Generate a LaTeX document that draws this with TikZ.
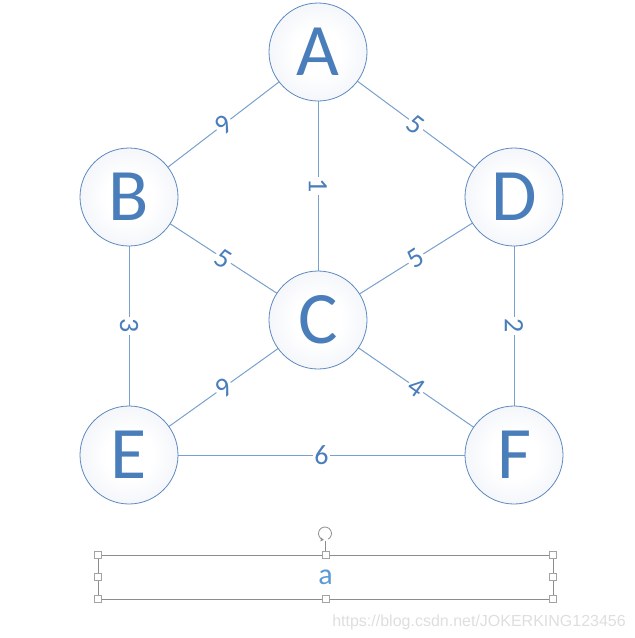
\documentclass[tikz,border=0pt]{standalone}
\usepackage{fontspec}
\setmainfont{Carlito}
\newfontfamily\wmfont{Liberation Sans}
\usetikzlibrary{arrows.meta,calc}
\definecolor{nodeblue}{RGB}{74,126,187}
\definecolor{ringblue}{RGB}{92,138,192}
\definecolor{edgeblue}{RGB}{120,160,206}
\definecolor{shadeblue}{RGB}{224,229,241}
\definecolor{aboxblue}{RGB}{91,155,213}
\definecolor{framegray}{RGB}{140,140,140}
\definecolor{wmgray}{RGB}{222,222,222}
\pgfdeclareradialshading{nodeshade}{\pgfpoint{0bp}{0bp}}{color(0bp)=(white); color(12bp)=(white); color(50bp)=(shadeblue)}
\begin{document}
\begin{tikzpicture}[x=1pt,y=-1pt,
  vertex/.style={circle, draw=ringblue, line width=0.8pt, shading=nodeshade,
    minimum size=98pt, inner sep=0pt, text=nodeblue, font=\fontsize{74}{74}\selectfont},
  edge/.style={draw=edgeblue, line width=1pt},
  wt/.style={midway, fill=white, inner sep=1.5pt, text=nodeblue,
    font=\fontsize{28}{28}\selectfont},
  handle/.style={draw=framegray!80, fill=white, line width=0.6pt,
    minimum size=7pt, inner sep=0pt}]
\useasboundingbox (0,0) rectangle (635,638);
% edges
\coordinate (pA) at (318,52);
\coordinate (pB) at (129,197);
\coordinate (pD) at (514,197);
\coordinate (pC) at (318,320);
\coordinate (pE) at (129,455);
\coordinate (pF) at (514,455);
\draw[edge] (pB) -- node[wt, rotate=37.5] {9} (pA);
\draw[edge] (pA) -- node[wt, rotate=-37.5] {5} (pD);
\draw[edge] (pA) -- node[wt, rotate=-90] {1} (pC);
\draw[edge] (pB) -- node[wt, rotate=-33] {5} (pC);
\draw[edge] (pC) -- node[wt, rotate=33] {5} (pD);
\draw[edge] (pB) -- node[wt, rotate=-90] {3} (pE);
\draw[edge] (pD) -- node[wt, rotate=-90] {2} (pF);
\draw[edge] (pE) -- node[wt, rotate=35.5] {9} (pC);
\draw[edge] (pC) -- node[wt, rotate=-35.5] {4} (pF);
\draw[edge] (pE) -- node[wt] {6} (pF);
% vertices
\node[vertex] (A) at (pA) {A};
\node[vertex] (B) at (pB) {B};
\node[vertex] (D) at (pD) {D};
\node[vertex] (C) at (pC) {C};
\node[vertex] (E) at (pE) {E};
\node[vertex] (F) at (pF) {F};
% text box with selection handles
\coordinate (tl) at (98,555);
\coordinate (br) at (553,599);
\draw[framegray, line width=0.8pt] (tl) rectangle (br);
\node[text=aboxblue, font=\fontsize{30}{30}\selectfont] (a) at (325.5,577) {a};
\coordinate (rc) at (325,533.5);
\draw[framegray, line width=0.6pt] (325,540.5) -- (325,551.5);
\draw[framegray, line width=0.8pt, -{Stealth[length=3.5pt,width=4pt]}] ($(rc)+(60:6.5)$) arc[start angle=60, end angle=-260, radius=6.5];
\foreach \x/\n in {98/l,325.5/m,553/r}{
  \node[handle] (ht\n) at (\x,555) {};
  \node[handle] (hb\n) at (\x,599) {};
}
\node[handle] (hml) at (98,577) {};
\node[handle] (hmr) at (553,577) {};
% watermark
\node[anchor=base east, inner sep=0pt, text=wmgray, font=\wmfont\fontsize{16}{16}\selectfont] (wm) at (626,626) {https://blog.csdn.net/JOKERKING123456};
\end{tikzpicture}
\end{document}
